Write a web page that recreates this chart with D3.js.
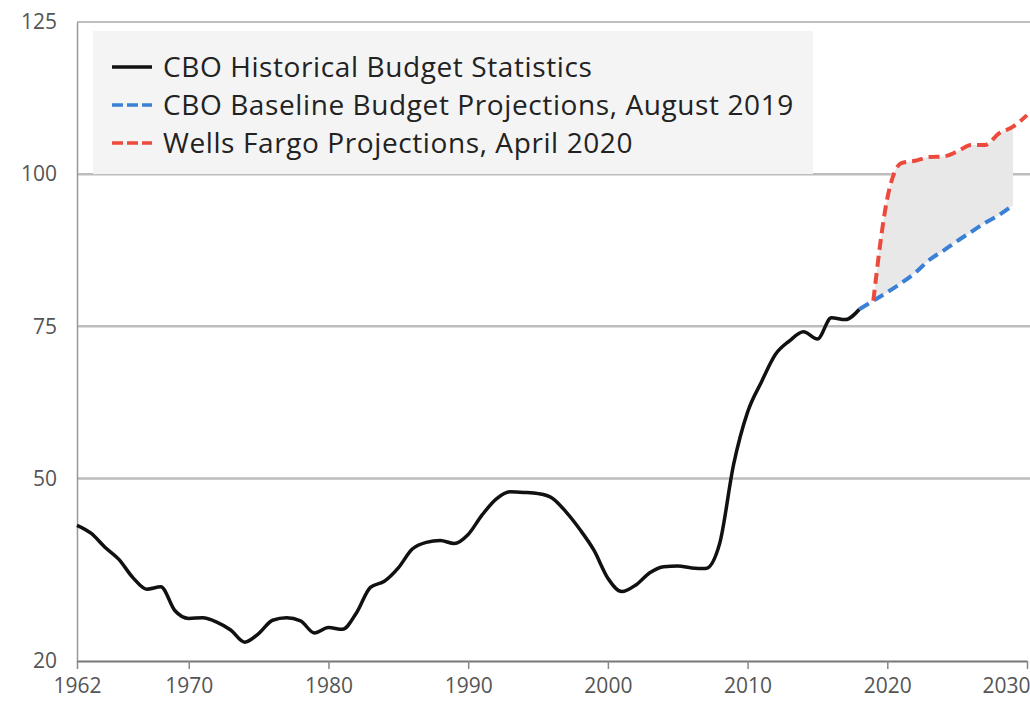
<!DOCTYPE html>
<html>
<head>
<meta charset="utf-8">
<script src="https://cdn.jsdelivr.net/npm/d3@7"></script>
<style>
  body { margin: 0; background: #fff; }
  svg { display: block; font-family: "Open Sans", "Lato", sans-serif; }
</style>
</head>
<body>
<svg id="chart" width="1030" height="702"></svg>
<script>
// debt held by the public, % of GDP
var histYears = d3.range(1962, 2019);
var histValues = [42.3, 41.0, 38.7, 36.7, 33.7, 31.8, 32.2, 28.3, 27.0, 27.1,
    26.4, 25.1, 23.1, 24.5, 26.7, 27.1, 26.6, 24.6, 25.5, 25.2,
    27.9, 32.1, 33.1, 35.3, 38.4, 39.5, 39.8, 39.3, 40.8, 44.0,
    46.6, 47.8, 47.7, 47.5, 46.8, 44.5, 41.6, 38.2, 33.6, 31.4,
    32.5, 34.5, 35.5, 35.6, 35.3, 35.2, 39.3, 52.3, 60.9, 65.9,
    70.4, 72.6, 74.1, 72.9, 76.4, 76.1, 77.8];

var cboYears = d3.range(2018, 2030);
var cboValues = [77.8, 79.2, 80.6, 82.1, 83.8, 85.9, 87.4, 89.0, 90.5, 92.0, 93.3, 94.9];

var wfYears = d3.range(2019, 2031);
var wfValues = [79.2, 96.0, 101.8, 102.2, 102.8, 102.9, 103.7, 104.8, 104.8, 106.7, 107.8, 109.7];

var yTicks = [20, 50, 75, 100, 125];
var xTicks = [1962, 1970, 1980, 1990, 2000, 2010, 2020, 2030];

var seriesNames = ['CBO Historical Budget Statistics',
    'CBO Baseline Budget Projections, August 2019',
    'Wells Fargo Projections, April 2020'];
var seriesColors = ['#111111', '#3a80d6', '#ec4a3c'];

var svg = d3.select('#chart'),
    margin = {top: 22, right: 3, bottom: 41, left: 77},
    width = 1030 - margin.left - margin.right,
    height = 702 - margin.top - margin.bottom;

var g = svg.append('g').attr('transform', 'translate(' + margin.left + ',' + margin.top + ')');

var x = d3.scaleLinear().domain([1962, 2030]).range([0, width]);
var y = d3.scaleLinear().domain([20, 125]).range([height, 0]);

var hist = histYears.map(function(d, i) { return {x: d, y: histValues[i]}; });
var cbo = cboYears.map(function(d, i) { return {x: d, y: cboValues[i]}; });
var wf = wfYears.map(function(d, i) { return {x: d, y: wfValues[i]}; });

// gap band between the two projections
var band = cbo.filter(function(d) { return d.x >= 2019; }).map(function(d) {
    var w = wf.find(function(e) { return e.x === d.x; });
    return {x: d.x, lo: d.y, hi: w.y};
});

// grid
g.selectAll('.grid')
    .data(yTicks.slice(1))
    .enter().append('line')
    .attr('x1', 0)
    .attr('x2', width + margin.right)
    .attr('y1', function(d) { return y(d); })
    .attr('y2', function(d) { return y(d); })
    .attr('stroke', function(d) { return d === 125 ? '#a8a8a8' : '#bdbdbd'; })
    .attr('stroke-width', function(d) { return d === 125 ? 1.5 : 2.5; });

g.append('path')
    .datum(band)
    .attr('fill', '#e8e8e8')
    .attr('d', d3.area()
        .curve(d3.curveMonotoneX)
        .x(function(d) { return x(d.x); })
        .y0(function(d) { return y(d.lo); })
        .y1(function(d) { return y(d.hi); }));

// legend box
var legend = g.append('g').attr('transform', 'translate(16,9)');
legend.append('rect')
    .attr('width', 720)
    .attr('height', 143)
    .attr('fill', '#f4f4f4');

seriesNames.forEach(function(name, i) {
    var row = legend.append('g').attr('transform', 'translate(19,' + (36 + i * 38) + ')');
    row.append('line')
        .attr('x1', 0).attr('x2', 40)
        .attr('stroke', seriesColors[i])
        .attr('stroke-width', 3.5)
        .attr('stroke-dasharray', i === 0 ? null : '11,4');
    row.append('text')
        .attr('x', 51)
        .attr('dy', '0.35em')
        .attr('font-size', 28)
        .attr('letter-spacing', 0.6)
        .attr('fill', '#222')
        .text(name);
});

// axes
var yAxis = g.append('g')
    .call(d3.axisLeft(y).tickValues(yTicks).tickSize(0).tickPadding(20));
yAxis.select('.domain').attr('stroke', '#999').attr('stroke-width', 1.5);
yAxis.selectAll('text').attr('font-size', 21).attr('fill', '#555').attr('font-family', 'Open Sans');

var xAxis = g.append('g')
    .attr('transform', 'translate(0,' + height + ')')
    .call(d3.axisBottom(x).tickValues(xTicks).tickFormat(d3.format('d')).tickSize(8).tickSizeOuter(0).tickPadding(9));
xAxis.select('.domain').attr('stroke', '#777').attr('stroke-width', 2);
xAxis.selectAll('.tick line').attr('stroke', '#888').attr('stroke-width', 1.5);
xAxis.selectAll('text').attr('font-size', 21).attr('fill', '#555').attr('font-family', 'Open Sans');
xAxis.selectAll('.tick text')
    .filter(function(d) { return d === 2030; })
    .attr('text-anchor', 'end')
    .attr('dx', 3);

// series
var line = d3.line()
    .curve(d3.curveMonotoneX)
    .x(function(d) { return x(d.x); })
    .y(function(d) { return y(d.y); });

[hist, cbo, wf].forEach(function(data, i) {
    g.append('path')
        .datum(data)
        .attr('fill', 'none')
        .attr('stroke', seriesColors[i])
        .attr('stroke-width', i === 0 ? 3.5 : 4)
        .attr('stroke-dasharray', i === 0 ? null : '11,6')
        .attr('stroke-linejoin', 'round')
        .attr('d', line);
});
</script>
</body>
</html>
